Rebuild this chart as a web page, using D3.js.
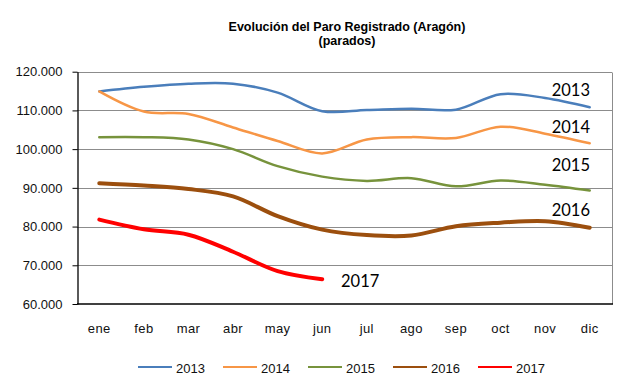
<!DOCTYPE html>
<html>
<head>
<meta charset="utf-8">
<script src="https://cdn.jsdelivr.net/npm/d3@7"></script>
<style>
  body { margin: 0; background: #fff; }
  svg { display: block; font-family: "Liberation Sans", Arial, sans-serif; }
  .grid line { stroke: #8c8c8c; stroke-width: 1; }
  .series { fill: none; stroke-linejoin: round; stroke-linecap: round; }
  .yearlab { font-family: Lato, "Open Sans", sans-serif; font-size: 16.5px; fill: #000; }
</style>
</head>
<body>
<div class="container"></div>
<script>
var months = ["ene", "feb", "mar", "abr", "may", "jun", "jul", "ago", "sep", "oct", "nov", "dic"];
var years = ["2013", "2014", "2015", "2016", "2017"];

// parados por mes
var s2013 = [114900, 116100, 116900, 116900, 114600, 109800, 110100, 110450, 110200, 114200, 113200, 110800];
var s2014 = [114900, 109700, 109100, 105600, 102100, 98900, 102500, 103100, 102900, 105800, 104000, 101500];
var s2015 = [103100, 103100, 102500, 100000, 95600, 92900, 91800, 92500, 90400, 91900, 90800, 89300];
var s2016 = [91200, 90600, 89700, 87800, 82700, 79200, 77800, 77700, 80100, 81000, 81400, 79700];
var s2017 = [81800, 79300, 77900, 73500, 68500, 66400];

var yTicks = [60000, 70000, 80000, 90000, 100000, 110000, 120000];

var colours = ["#4a7ebb", "#f79646", "#77933c", "#9c4f0e", "#ff0000"];
var widths = [2.5, 2.5, 2.5, 4, 4];

var width = 630,
    height = 385,
    plotLeft = 77,
    plotRight = 612,
    plotTop = 71.7,
    plotBottom = 304;

var svg = d3.select(".container").append("svg")
    .attr("width", width)
    .attr("height", height);

var x = d3.scaleBand()
    .domain(months)
    .range([plotLeft, plotRight]);

var y = d3.scaleLinear()
    .domain([60000, 120000])
    .range([plotBottom, plotTop]);

var cx = function(m) { return x(m) + x.bandwidth() / 2; };

var es = d3.formatLocale({ decimal: ",", thousands: ".", grouping: [3], currency: ["", "€"] });
var fmt = es.format(",.0f");

// ---------- TITLE ----------
svg.append("text")
    .attr("x", 347).attr("y", 31)
    .attr("text-anchor", "middle")
    .style("font-weight", "bold").style("font-size", "12.5px")
    .text("Evolución del Paro Registrado (Aragón)");
svg.append("text")
    .attr("x", 347).attr("y", 44.5)
    .attr("text-anchor", "middle")
    .style("font-weight", "bold").style("font-size", "12.5px")
    .text("(parados)");

// ---------- GRID ----------
svg.append("g")
    .attr("class", "grid")
    .selectAll("line")
    .data(yTicks.slice(1))
    .enter().append("line")
    .attr("x1", plotLeft).attr("x2", plotRight)
    .attr("y1", function(d) { return Math.round(y(d)) + 0.5; })
    .attr("y2", function(d) { return Math.round(y(d)) + 0.5; });

svg.append("line")
    .attr("x1", plotRight + 0.5).attr("x2", plotRight + 0.5)
    .attr("y1", Math.round(plotTop) + 0.5).attr("y2", plotBottom)
    .attr("stroke", "#8c8c8c");

// ---------- AXES ----------
var yAxis = svg.append("g")
    .attr("transform", "translate(" + (plotLeft + 0.5) + ",0)")
    .call(d3.axisLeft(y).tickValues(yTicks).tickFormat(fmt).tickSizeInner(5).tickSizeOuter(0).tickPadding(10));
yAxis.select(".domain").attr("stroke", "#000").attr("stroke-width", 1.3);
yAxis.selectAll(".tick line").attr("stroke", "#000");
yAxis.selectAll("text")
    .style("font-size", "13px").style("fill", "#111")
    .attr("font-family", null);

svg.append("line")
    .attr("x1", plotLeft).attr("x2", plotRight + 1)
    .attr("y1", plotBottom).attr("y2", plotBottom)
    .attr("stroke", "#000").attr("stroke-width", 1.5);

svg.append("g")
    .selectAll("text")
    .data(months)
    .enter().append("text")
    .attr("x", cx)
    .attr("y", 333)
    .attr("text-anchor", "middle")
    .style("font-size", "13px").style("letter-spacing", "0.4px")
    .style("fill", "#111")
    .text(function(d) { return d; });

// ---------- LINES ----------
var series = [s2013, s2014, s2015, s2016, s2017];

var line = d3.line()
    .x(function(d, i) { return cx(months[i]); })
    .y(function(d) { return y(d); })
    .curve(d3.curveCatmullRom.alpha(0.5));

svg.selectAll(".series")
    .data(series)
    .enter().append("path")
    .attr("class", "series")
    .attr("d", line)
    .attr("stroke", function(d, i) { return colours[i]; })
    .attr("stroke-width", function(d, i) { return widths[i]; });

// year labels next to the lines
var labelPos = [[590, 96, "end"], [590, 133, "end"], [590, 171, "end"], [590, 216, "end"], [341, 287, "start"]];
svg.selectAll(".yearlab")
    .data(years)
    .enter().append("text")
    .attr("class", "yearlab")
    .attr("x", function(d, i) { return labelPos[i][0]; })
    .attr("y", function(d, i) { return labelPos[i][1]; })
    .attr("text-anchor", function(d, i) { return labelPos[i][2]; })
    .text(function(d) { return d; });

// ---------- LEGEND ----------
var legend = svg.append("g")
    .selectAll("g")
    .data(years)
    .enter().append("g")
    .attr("transform", function(d, i) { return "translate(" + (138 + i * 85) + ",367)"; });

legend.append("line")
    .attr("x1", 0).attr("x2", 34)
    .attr("stroke", function(d, i) { return colours[i]; })
    .attr("stroke-width", 2);

legend.append("text")
    .attr("x", 38).attr("y", 6)
    .style("font-size", "13px").style("fill", "#111")
    .text(function(d) { return d; });
</script>
</body>
</html>
